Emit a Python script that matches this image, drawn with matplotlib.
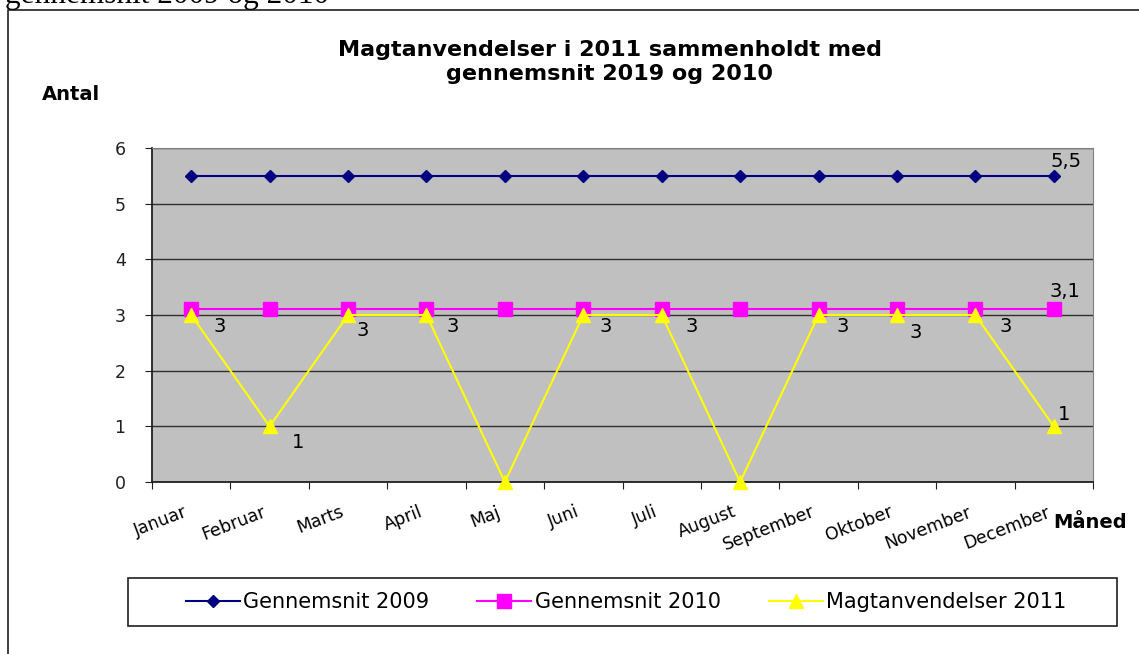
import numpy as np
import matplotlib
matplotlib.use("Agg")
import matplotlib.pyplot as plt
from matplotlib.lines import Line2D
from matplotlib.patches import Rectangle
from matplotlib.transforms import ScaledTranslation

plt.rcParams["font.family"] = ["DejaVu Sans"]

# chart data
months = ["Januar", "Februar", "Marts", "April", "Maj", "Juni", "Juli",
          "August", "September", "Oktober", "November", "December"]
avg_2009 = [5.5] * 12
avg_2010 = [3.1] * 12
magt_2011 = [3, 1, 3, 3, 0, 3, 3, 0, 3, 3, 3, 1]

# label offsets (pixels) for the 2011 values; zeros are not labelled
lab_off = [(28, -12), (28, -16), (15, -16), (26, -12), None, (22, -12),
           (30, -12), None, (24, -12), (19, -18), (30, -12), (10, 12)]

W, H = 1139, 654
fig = plt.figure(figsize=(W / 100, H / 100), dpi=100)
ax = fig.add_axes([152 / W, 1 - 482 / H, (1093 - 152) / W, (482 - 148) / H])
ax.set_facecolor("#C0C0C0")

x = np.arange(len(months))
ax.plot(x, avg_2009, color="#000080", lw=1.5, marker="D", ms=6,
        label="Gennemsnit 2009", zorder=3)
ax.plot(x, avg_2010, color="#FF00FF", lw=1.5, marker="s", ms=9.5,
        label="Gennemsnit 2010", zorder=3)
ax.plot(x, magt_2011, color="#FFFF00", lw=1.5, marker="^", ms=9.5,
        label="Magtanvendelser 2011", zorder=4, clip_on=False)

ax.set_xlim(-0.5, len(months) - 0.5)
ax.set_ylim(0, 6)
ax.set_yticks(range(7))
ax.yaxis.grid(True, color="#303030", lw=1)
ax.set_axisbelow(True)

# category ticks between months, labels at month centres
ax.set_xticks(np.arange(-0.5, len(months)), minor=False)
ax.set_xticklabels([])
ax.set_xticks(x, minor=True)
ax.set_xticklabels(months, minor=True, rotation=21, ha="right", va="top",
                   rotation_mode="anchor", fontsize=12.5)
ax.tick_params(axis="x", which="minor", length=0, pad=15)
ax.tick_params(axis="x", which="major", length=5, direction="out", color="#202020")
ax.tick_params(axis="y", length=5, direction="out", labelsize=12.5, pad=14,
               color="#202020", labelcolor="#202020")
# nudge month labels a little to the left (after tick_params, which resets transforms)
shift = ScaledTranslation(-8 / 100, 0, fig.dpi_scale_trans)
for lab in ax.get_xticklabels(minor=True):
    lab.set_transform(lab.get_transform() + shift)

for side in ["top", "right"]:
    ax.spines[side].set_color("#808080")
for side in ["left", "bottom"]:
    ax.spines[side].set_color("#202020")
    ax.spines[side].set_linewidth(1.3)

# data labels
ax.annotate(f"{avg_2009[-1]:g}".replace(".", ","), (x[-1], avg_2009[-1]),
            xytext=(12, 14), textcoords="offset pixels", fontsize=14,
            ha="center", va="center")
ax.annotate(f"{avg_2010[-1]:g}".replace(".", ","), (x[-1], avg_2010[-1]),
            xytext=(11, 18), textcoords="offset pixels", fontsize=14,
            ha="center", va="center")
for xi, v, off in zip(x, magt_2011, lab_off):
    if off is None:
        continue
    ax.annotate(str(v), (xi, v), xytext=off, textcoords="offset pixels",
                fontsize=14, ha="center", va="center")

fig.text(610 / W, 1 - 62 / H,
         "Magtanvendelser i 2011 sammenholdt med\ngennemsnit 2019 og 2010",
         ha="center", va="center", fontsize=16, fontweight="bold",
         linespacing=1.25)
fig.text(42 / W, 1 - 95 / H, "Antal", ha="left", va="center",
         fontsize=14, fontweight="bold")
fig.text(1053 / W, 1 - 522 / H, "Måned", ha="left", va="center",
         fontsize=14, fontweight="bold")

# clipped caption above the frame
fig.text(5 / W, 1 - 3 / H, "gennemsnit 2009 og 2010", ha="left",
         va="baseline", fontsize=22.5, family=["Liberation Serif"])

# outer frame (left and top edges)
fig.add_artist(Line2D([8 / W, 8 / W, 1.0], [0.0, 1 - 10 / H, 1 - 10 / H],
                      transform=fig.transFigure, color="#202020", lw=1.2))

# legend box drawn separately, entries centred inside it
fig.add_artist(Rectangle((128 / W, 1 - 626 / H), (1117 - 128) / W, 48 / H,
                         transform=fig.transFigure, fill=False,
                         edgecolor="#202020", lw=1.2))
fig.legend(loc="center", bbox_to_anchor=(626 / W, 1 - 602 / H),
           ncol=3, frameon=False, fontsize=15, columnspacing=2.3,
           handlelength=2.6, handletextpad=0.15, borderpad=0.2)

fig.savefig("out.png", dpi=100)
